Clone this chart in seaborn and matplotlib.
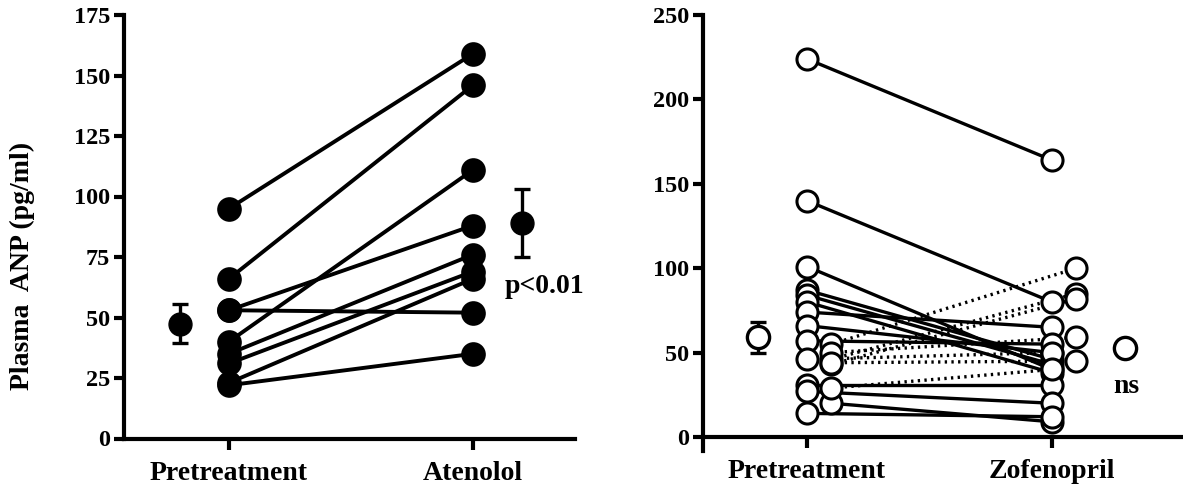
import pandas as pd
import seaborn as sns
import numpy as np
import matplotlib.pyplot as plt

# Atenolol group (filled circles)
aten_pre = [95, 66, 53, 53, 40, 35, 31, 23, 22]
aten_post = [159, 146, 88, 52, 111, 76, 69, 66, 35]
aten_mean = [47.5, 89]
aten_sem = [8, 14]

# Zofenopril group (open circles); side = which column the point sits in (0 main, 1 shifted)
zof_pre = [224, 140, 101, 87, 84, 80, 74, 66, 57, 31, 27, 20, 14, 55, 46, 43, 50, 46, 29, 44]
zof_post = [164, 80, 40, 46, 43, 38, 65, 50, 55, 31, 20, 9, 12, 100, 85, 82, 59, 50, 40, 45]
zof_pre_side = [0, 0, 0, 0, 0, 0, 0, 0, 0, 0, 0, 1, 0, 1, 1, 1, 1, 0, 1, 1]
zof_post_side = [0, 0, 0, 0, 0, 0, 0, 0, 0, 0, 0, 0, 0, 1, 1, 1, 1, 0, 0, 1]
zof_mean = [59, 53]
zof_sem = [9, 4.5]

left_labels = ['Pretreatment', 'Atenolol']
right_labels = ['Pretreatment', 'Zofenopril']

sns.set_theme(style='ticks')
plt.rcParams['font.family'] = ['Liberation Serif', 'DejaVu Serif']
plt.rcParams['font.weight'] = 'bold'
for k in ['text.color', 'axes.edgecolor', 'axes.labelcolor', 'xtick.color', 'ytick.color']:
    plt.rcParams[k] = 'black'


def long_table(pre, post, pre_side=None, post_side=None, shift=0.1):
    n = len(pre)
    pre_side = pre_side or [0] * n
    post_side = post_side or [0] * n
    rows = []
    for i in range(n):
        change = 'up' if post[i] > pre[i] else 'down'
        rows.append({'pid': i, 'x': 0 + pre_side[i] * shift, 'value': pre[i], 'change': change})
        rows.append({'pid': i, 'x': 1 + post_side[i] * shift, 'value': post[i], 'change': change})
    return pd.DataFrame(rows)


def style_axis(ax, labels, ymax, step):
    ax.set_ylim(0, ymax)
    ax.set_yticks(np.arange(0, ymax + 1, step))
    ax.set_xticks([0, 1])
    ax.set_xticklabels(labels, fontsize=20, fontweight='bold')
    for t in ax.get_yticklabels():
        t.set_fontweight('bold')
    ax.tick_params(axis='y', labelsize=17.5, length=7, width=3, pad=3)
    ax.tick_params(axis='x', length=8, width=3, pad=8)
    sns.despine(ax=ax)
    for s in ['left', 'bottom']:
        ax.spines[s].set_linewidth(3)
    ax.set_xlabel('')
    ax.set_ylabel('')


fig = plt.figure(figsize=(11.83, 4.87), dpi=100)
ax1 = fig.add_axes([124 / 1183, 1 - 438.5 / 487, (575 - 124) / 1183, (438.5 - 15) / 487])
ax2 = fig.add_axes([703 / 1183, 1 - 437 / 487, (1183 - 703) / 1183, (437 - 15) / 487])

# left panel
df1 = long_table(aten_pre, aten_post)
sns.lineplot(data=df1, x='x', y='value', units='pid', estimator=None, color='black',
             lw=2.8, ax=ax1, legend=False, sort=False)
sns.scatterplot(data=df1, x='x', y='value', color='black', s=270, edgecolor='black',
                ax=ax1, legend=False, zorder=3, clip_on=False)
ax1.errorbar([-0.2, 1.2], aten_mean, yerr=aten_sem, fmt='o', color='black', ms=16.5,
             elinewidth=2.4, capsize=6, capthick=2.4, zorder=4)
ax1.text(1.13, 63, 'p<0.01', fontsize=20, fontweight='bold', va='center', ha='left')
ax1.set_xlim(-0.43, 1.418)
style_axis(ax1, left_labels, 175, 25)
fig.text(22 / 1183, 1 - 266 / 487, 'Plasma  ANP (pg/ml)', rotation=90, fontsize=20,
         fontweight='bold', ha='center', va='center')

# right panel
df2 = long_table(zof_pre, zof_post, zof_pre_side, zof_post_side)
sns.lineplot(data=df2, x='x', y='value', units='pid', estimator=None, color='black',
             style='change', dashes={'down': '', 'up': (0.7, 1.3)}, lw=2.4, ax=ax2,
             legend=False, sort=False)
sns.scatterplot(data=df2, x='x', y='value', facecolor='white', edgecolor='black',
                linewidth=2.2, s=230, ax=ax2, legend=False, zorder=3, clip_on=False)
ax2.errorbar([-0.2, 1.3], zof_mean, yerr=zof_sem, fmt='o', color='black', mfc='white',
             mec='black', mew=2.4, ms=16, elinewidth=2.4, capsize=6, capthick=2.4, zorder=4)
ax2.text(1.25, 30, 'ns', fontsize=20, fontweight='bold', va='center', ha='left')
ax2.set_xlim(-0.424, 1.535)
style_axis(ax2, right_labels, 250, 50)
ax2.spines['left'].set_bounds(-8, 250)

fig.savefig('out.png', dpi=100)
